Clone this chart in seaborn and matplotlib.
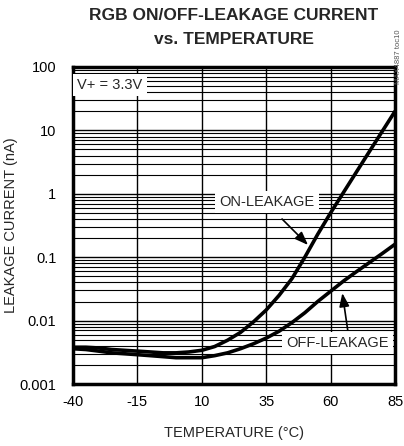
import numpy as np
import pandas as pd
import matplotlib
matplotlib.use("Agg")
import matplotlib.pyplot as plt
import seaborn as sns
from matplotlib.ticker import FixedLocator, FixedFormatter, LogLocator, NullFormatter

temperature = [-40, -35, -30, -25, -20, -15, -10, -5, 0, 5, 10, 15, 20, 25, 30,
               35, 40, 45, 50, 55, 60, 65, 70, 75, 80, 85]
on_leakage = [0.0038, 0.0038, 0.0037, 0.0035, 0.0034, 0.0033, 0.0032, 0.0031, 0.0031,
              0.0032, 0.0034, 0.0039, 0.0049, 0.0065, 0.0095, 0.0147, 0.025, 0.046,
              0.10, 0.23, 0.5, 1.05, 2.2, 4.6, 9.6, 20.0]
off_leakage = [0.0036, 0.0035, 0.0033, 0.0031, 0.0030, 0.0029, 0.0028, 0.0027, 0.0026,
               0.0026, 0.0026, 0.0028, 0.0031, 0.0036, 0.0043, 0.0053, 0.0068, 0.0093,
               0.0133, 0.020, 0.029, 0.042, 0.059, 0.082, 0.114, 0.16]
x_ticks = [-40, -15, 10, 35, 60, 85]
y_ticks = [0.001, 0.01, 0.1, 1, 10, 100]
y_tick_labels = ["0.001", "0.01", "0.1", "1", "10", "100"]

sns.set_style("white")
plt.rcParams["font.family"] = ["Liberation Sans", "DejaVu Sans"]

df = pd.DataFrame({
    "temp": temperature * 2,
    "val": on_leakage + off_leakage,
    "series": ["ON"] * len(temperature) + ["OFF"] * len(temperature),
})

fig = plt.figure(figsize=(4.04, 4.46), dpi=100)
ax = fig.add_axes([73 / 404, 1 - 384 / 446, 322 / 404, 317 / 446])
ax.set_yscale("log")

sns.lineplot(data=df, x="temp", y="val", hue="series", palette=["black", "black"],
             linewidth=2.6, legend=False, ax=ax, zorder=5)

ax.set_xlim(-40, 85)
ax.set_ylim(0.001, 100)
ax.xaxis.set_major_locator(FixedLocator(x_ticks))
ax.set_xticklabels([str(t) for t in x_ticks])
ax.yaxis.set_major_locator(FixedLocator(y_ticks))
ax.yaxis.set_major_formatter(FixedFormatter(y_tick_labels))
ax.yaxis.set_minor_locator(LogLocator(base=10, subs=np.arange(2, 10)))
ax.yaxis.set_minor_formatter(NullFormatter())
ax.grid(True, which="major", axis="both", color="black", linewidth=1.0)
ax.grid(True, which="minor", axis="y", color="black", linewidth=0.8)
ax.tick_params(axis="x", which="both", length=0, labelsize=10.5, pad=8, colors="black")
ax.tick_params(axis="y", which="both", length=0, labelsize=10.5, pad=12, colors="black")
for s in ax.spines.values():
    s.set_linewidth(2.5)
    s.set_color("black")
ax.set_xlabel("TEMPERATURE (°C)", fontsize=10.5, labelpad=12)
ax.set_ylabel("LEAKAGE CURRENT (nA)", fontsize=10.5, labelpad=1)

box = dict(facecolor="white", edgecolor="none", pad=3)
ax.text(-25.6, 52, "V+ = 3.3V", fontsize=10.5, ha="center", va="center", bbox=box, zorder=6)
ax.text(35.3, 0.74, "ON-LEAKAGE", fontsize=10.5, ha="center", va="center", bbox=box, zorder=6)
ax.text(62.5, 0.0044, "OFF-LEAKAGE", fontsize=10.5, ha="center", va="center", bbox=box, zorder=6)

ax.annotate("", xy=(52, 0.145), xytext=(40.4, 0.43),
            arrowprops=dict(arrowstyle="-|>,head_length=0.8,head_width=0.3", color="black", lw=1.2),
            zorder=7)
ax.annotate("", xy=(64.4, 0.030), xytext=(66.8, 0.0064),
            arrowprops=dict(arrowstyle="-|>,head_length=0.8,head_width=0.3", color="black", lw=1.2),
            zorder=7)

fig.text(234 / 404, 1 - 16 / 446, "RGB ON/OFF-LEAKAGE CURRENT", fontsize=12.5, fontweight="bold",
         ha="center", va="center")
fig.text(234 / 404, 1 - 40 / 446, "vs. TEMPERATURE", fontsize=12.5, fontweight="bold",
         ha="center", va="center")
fig.text(399 / 404, 1 - 57 / 446, "MAX4887 toc10", fontsize=5.5, rotation=90, color="#555555",
         ha="center", va="center")

fig.savefig("out.png", dpi=100)
